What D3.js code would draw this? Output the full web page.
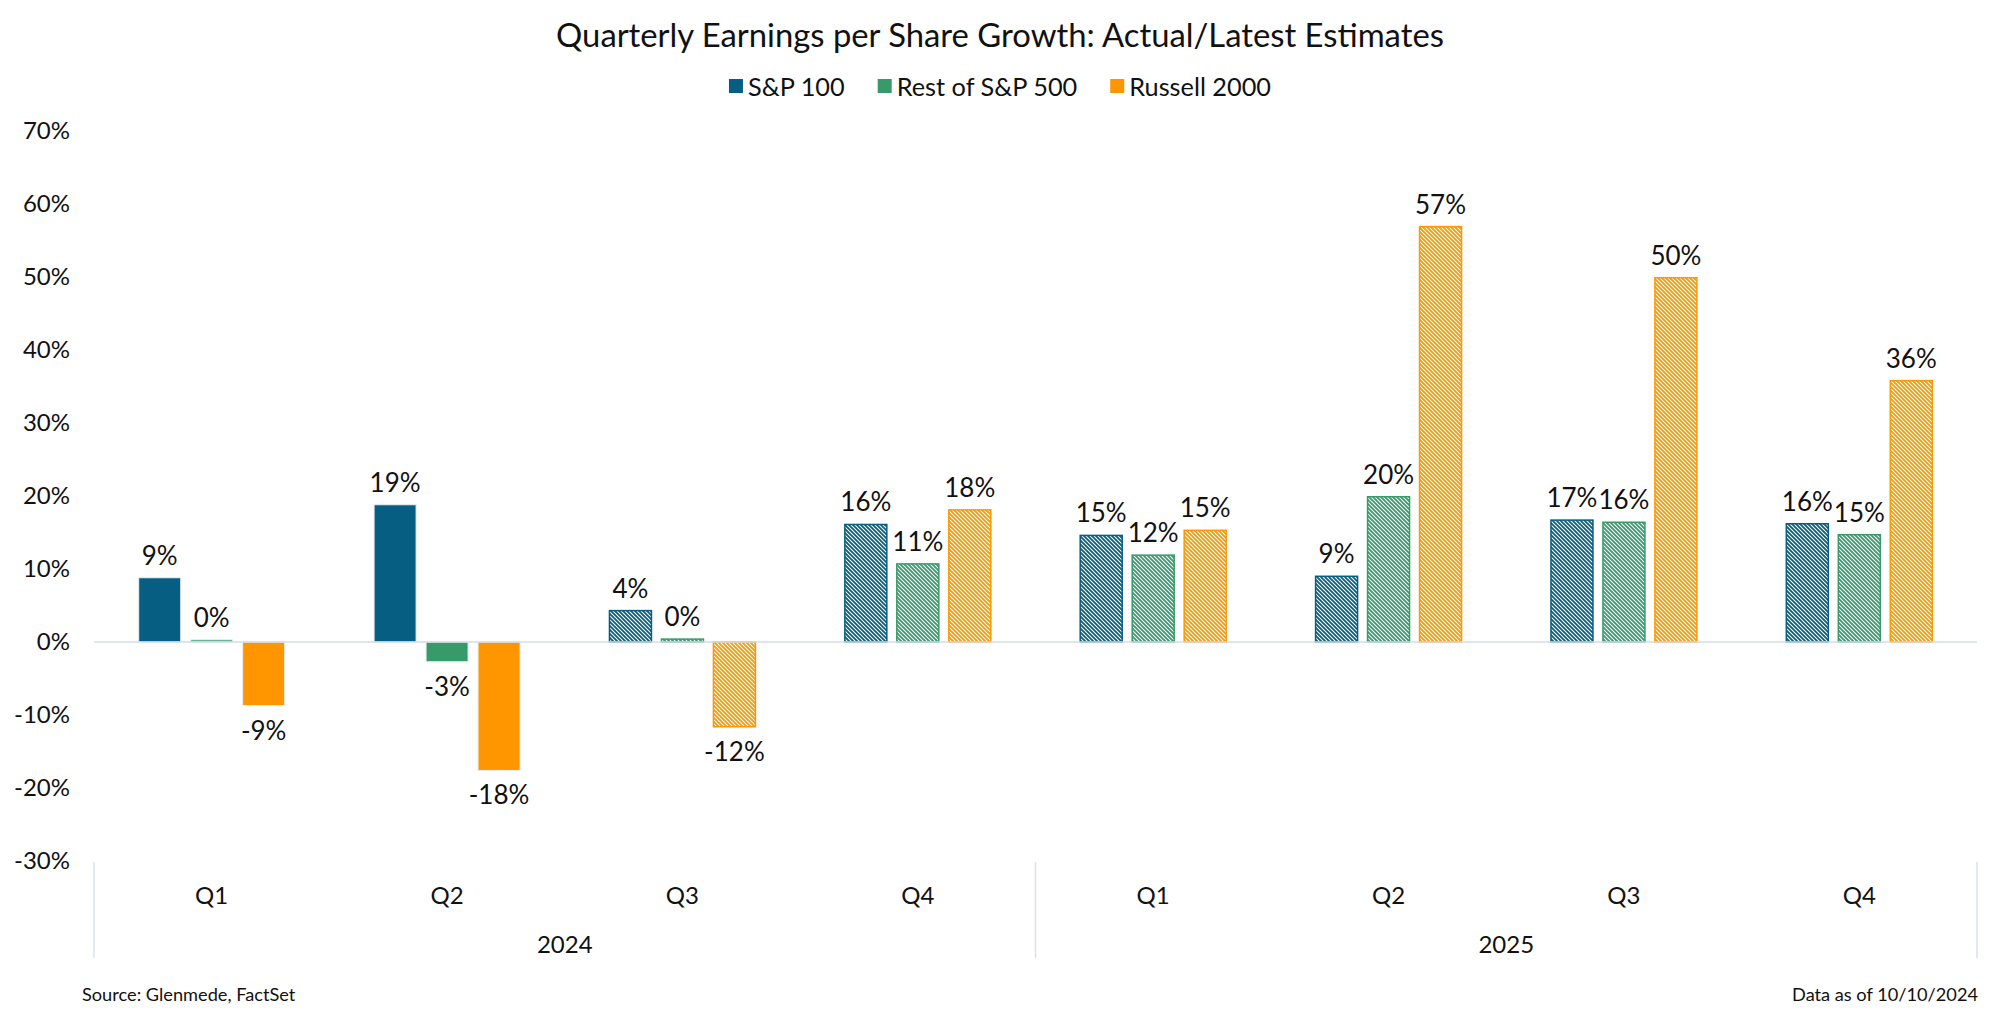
<!DOCTYPE html>
<html><head><meta charset="utf-8">
<script src="https://cdn.jsdelivr.net/npm/d3@7"></script>
<style>
body{margin:0;background:#fff}
svg text{font-family:Lato,"Open Sans",sans-serif;fill:#111}
</style>
</head><body>
<svg id="c" width="2000" height="1016"></svg>
<script>
// ---- data ----
const quarters = ["Q1","Q2","Q3","Q4","Q1","Q2","Q3","Q4"];
const yearOf   = ["2024","2024","2024","2024","2025","2025","2025","2025"];
const years    = ["2024","2025"];
const isEstimate = [false,false,true,true,true,true,true,true];
const seriesNames = ["S&P 100","Rest of S&P 500","Russell 2000"];
const sp100       = [8.8, 18.8, 4.3, 16.1, 14.6, 9.0, 16.7, 16.2];
const restSP500   = [0.3, -2.7, 0.4, 10.7, 11.9, 19.9, 16.4, 14.7];
const russell2000 = [-8.7, -17.6, -11.6, 18.1, 15.3, 56.9, 49.9, 35.8];
const yTicks = [-30,-20,-10,0,10,20,30,40,50,60,70];
const colors = ["#065E82","#379B69","#FF9600"];

(function(){
const seriesValues = [sp100, restSP500, russell2000];
const periods = quarters.map((q,i)=>yearOf[i]+" "+q);

const svg = d3.select("#c");
const W=2000;
const pLeft=94,pRight=1977,pTop=131,pBottom=861;

const x = d3.scaleBand().domain(periods).range([pLeft,pRight]).paddingInner(0).paddingOuter(0);
const xs = d3.scaleBand().domain(seriesNames).range([0,x.bandwidth()]).paddingInner(0.192).paddingOuter(0.86);
const y = d3.scaleLinear().domain([-30,70]).range([pBottom,pTop]);

// patterns
const defs = svg.append("defs");
colors.forEach((c,i)=>{
  const p = defs.append("pattern").attr("id","hatch"+i).attr("patternUnits","userSpaceOnUse")
    .attr("width",4).attr("height",4);
  p.append("rect").attr("width",4).attr("height",4).attr("fill","#fff");
  p.append("path").attr("d","M-1,-1 L5,5 M-1,3 L1,5 M3,-1 L5,1")
    .attr("stroke",c).attr("stroke-width",1.8).attr("fill","none");
});

// title
svg.append("text").attr("x",W/2).attr("y",34).attr("text-anchor","middle")
  .attr("dominant-baseline","central").style("font-size","32.8px")
  .text("Quarterly Earnings per Share Growth: Actual/Latest Estimates");

// legend
const lg = svg.append("g");
let lx = 0;
seriesNames.forEach((s,i)=>{
  const g = lg.append("g");
  g.append("rect").attr("x",0).attr("y",-7).attr("width",14).attr("height",14).attr("fill",colors[i]);
  const t = g.append("text").attr("x",19).attr("y",0).attr("dominant-baseline","central")
    .style("font-size","25.3px").text(s);
  const w = 19 + t.node().getComputedTextLength();
  g.attr("transform",`translate(${lx},86)`);
  lx += w + 33;
});
const lw = lx - 33;
lg.attr("transform",`translate(${W/2 - lw/2},0)`);

// y axis labels
const ya = svg.append("g").attr("transform",`translate(70,0)`)
  .call(d3.axisLeft(y).tickValues(yTicks).tickSize(0).tickPadding(0).tickFormat(d=>d+"%"));
ya.select(".domain").remove();
ya.selectAll("text").style("font-size","24px").style("font-family","Lato").attr("fill","#111");

// bars
const gb = svg.append("g");
seriesValues.forEach((vals,si)=>{
  const data = vals.map((v,i)=>({v,i}));
  gb.selectAll(null).data(data).join("rect")
    .attr("x",d=>x(periods[d.i])+xs(seriesNames[si]))
    .attr("width",xs.bandwidth())
    .attr("y",d=>y(Math.max(0,d.v)))
    .attr("height",d=>Math.abs(y(d.v)-y(0)))
    .attr("fill",d=>isEstimate[d.i]?`url(#hatch${si})`:colors[si])
    .attr("stroke",d=>isEstimate[d.i]?colors[si]:"#e8eef3")
    .attr("stroke-width",d=>isEstimate[d.i]?1.5:1);
  gb.selectAll(null).data(data).join("text")
    .attr("x",d=>x(periods[d.i])+xs(seriesNames[si])+xs.bandwidth()/2)
    .attr("y",d=>d.v>=0? y(d.v)-23 : y(d.v)+24)
    .attr("text-anchor","middle").attr("dominant-baseline","central")
    .style("font-size","26px")
    .text(d=>Math.round(d.v)+"%");
});

// zero line
svg.append("line").attr("x1",pLeft).attr("x2",pRight).attr("y1",y(0)).attr("y2",y(0))
  .attr("stroke","#d3dce6").attr("stroke-width",1.5);

// category axis
const xa = svg.append("g");
xa.selectAll(null).data(periods).join("text")
  .attr("x",d=>x(d)+x.bandwidth()/2).attr("y",894)
  .attr("text-anchor","middle").attr("dominant-baseline","central").style("font-size","24px")
  .text((d,i)=>quarters[i]);
years.forEach(yr=>{
  const ps = periods.filter((p,i)=>yearOf[i]===yr);
  const x0 = x(ps[0]), x1 = x(ps[ps.length-1])+x.bandwidth();
  xa.append("text").attr("x",(x0+x1)/2).attr("y",943).attr("text-anchor","middle")
    .attr("dominant-baseline","central").style("font-size","24px").text(yr);
});
const seps = [x(periods[0]), x(periods[4]), x(periods[7])+x.bandwidth()];
xa.selectAll(null).data(seps).join("line")
  .attr("x1",d=>d).attr("x2",d=>d).attr("y1",862).attr("y2",958)
  .attr("stroke","#dbe2ea").attr("stroke-width",1.5);

// footer
svg.append("text").attr("x",82).attr("y",994).attr("dominant-baseline","central")
  .style("font-size","18.2px").text("Source: Glenmede, FactSet");
svg.append("text").attr("x",1978).attr("y",994).attr("text-anchor","end").attr("dominant-baseline","central")
  .style("font-size","18.2px").text("Data as of 10/10/2024");
})();
</script>
</body></html>
